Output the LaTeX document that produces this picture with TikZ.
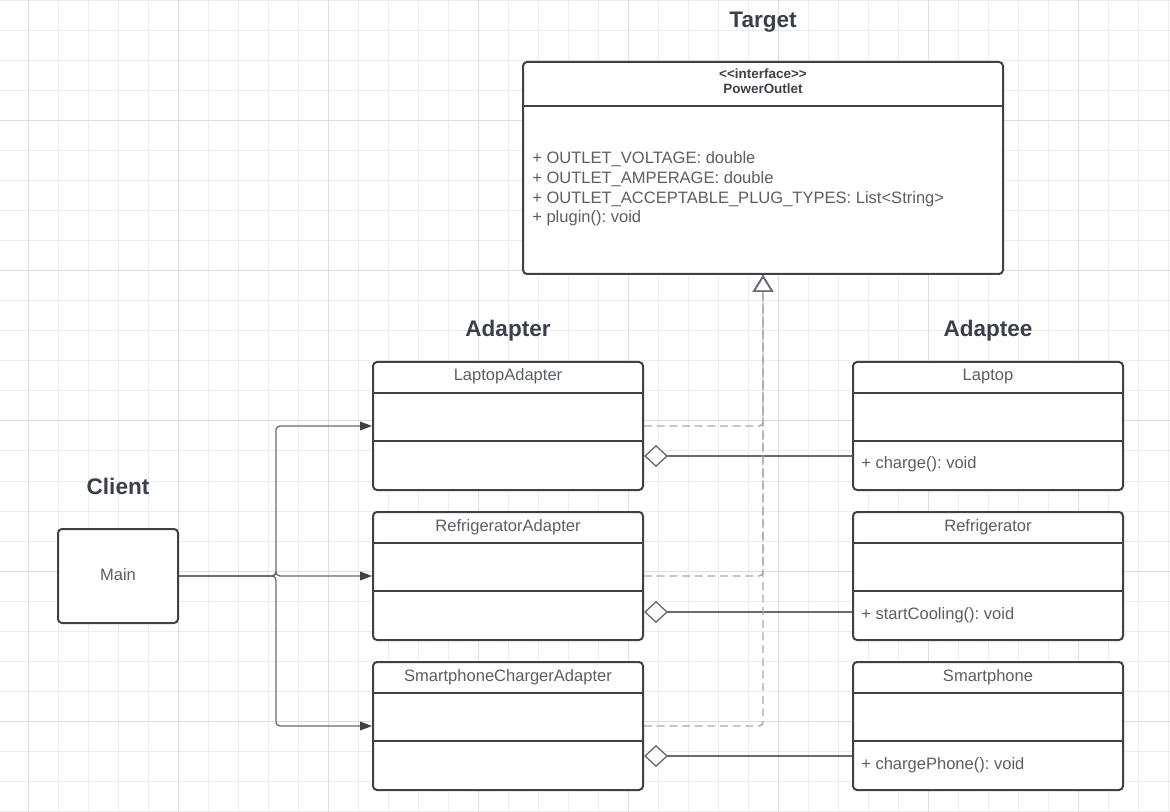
\documentclass[tikz,border=0pt]{standalone}
\usepackage{fontspec}
\setmainfont{Liberation Sans}
\usepackage{tikz}
\usetikzlibrary{arrows.meta,calc}
\frenchspacing
\definecolor{boxline}{RGB}{62,66,72}
\definecolor{txtgray}{RGB}{90,95,102}
\definecolor{titlegray}{RGB}{58,64,74}
\definecolor{dashgray}{RGB}{168,170,174}
\definecolor{linkgray}{RGB}{104,108,114}
\definecolor{gridminor}{RGB}{237,237,237}
\definecolor{gridmajor}{RGB}{222,222,222}

\begin{document}
\begin{tikzpicture}[
    x=0.75pt, y=-0.75pt,
    every node/.style={font=\fontsize{12.4}{14.7}\selectfont, text=txtgray, inner sep=0pt},
    classbox/.style={draw=boxline, line width=1.5pt, rounded corners=3pt, fill=white,
                     minimum width=202.5pt, minimum height=96pt},
    divider/.style={draw=boxline, line width=1.5pt},
    heading/.style={font=\fontsize{16.9}{20}\selectfont\bfseries, text=titlegray, anchor=base},
    member/.style={anchor=base west},
    realize/.style={draw=dashgray, line width=1.1pt, dash pattern=on 6pt off 3.5pt, rounded corners=3pt,
                    -{Triangle[open, length=12.75pt, width=15.5pt, color=linkgray]}},
    assoc/.style={draw=linkgray, line width=1pt, rounded corners=3pt,
                  -{Triangle[length=9pt, width=6.5pt, color=boxline]}},
    aggr/.style={draw=linkgray, line width=1pt,
                 {Diamond[open, length=18pt, width=16.5pt, color=linkgray, fill=white]}-},
]
    \useasboundingbox (0,0) rectangle (1170,812);
    % background grid
    \fill[white] (0,0) rectangle (1170,812);
    \foreach \gx in {28,58,...,1168} \draw[gridminor, line width=0.75pt] (\gx,0) -- (\gx,812);
    \foreach \gy in {1,31,...,811} \draw[gridminor, line width=0.75pt] (0,\gy) -- (1170,\gy);
    \foreach \gx in {28,178,...,1168} \draw[gridmajor, line width=0.75pt] (\gx,0) -- (\gx,812);
    \foreach \gy in {121,271,...,811} \draw[gridmajor, line width=0.75pt] (0,\gy) -- (1170,\gy);

    % group titles
    \node[heading] (target) at (763,28) {Target};
    \node[heading] (adapter) at (508,337) {Adapter};
    \node[heading] (adaptee) at (988,337) {Adaptee};
    \node[heading] (client) at (118,494) {Client};

    % target interface
    \node[classbox, minimum width=360pt, minimum height=159pt] (outlet) at (763,168) {};
    \draw[divider] ($(outlet.north west)+(0,45)$) -- ($(outlet.north east)+(0,45)$);
    \node[anchor=base, font=\fontsize{10.1}{12}\selectfont\bfseries, text=boxline]
        (stereo) at ($(outlet.north)+(0,18)$) {<\kern0pt<interface>\kern0pt>};
    \node[anchor=base, font=\fontsize{10.1}{12}\selectfont\bfseries, text=boxline]
        (outletname) at ($(outlet.north)+(0,33)$) {PowerOutlet};
    \foreach \attr [count=\i] in {OUTLET\_VOLTAGE: double, OUTLET\_AMPERAGE: double,
            OUTLET\_ACCEPTABLE\_PLUG\_TYPES: List<String>, plugin(): void}
        \node[member] (attr\i) at ($(outlet.north west)+(10,{103+19.6*(\i-1)})$) {+ \attr};

    % client
    \node[classbox, minimum width=90pt, minimum height=70.5pt] (main) at (118,576) {};
    \node[anchor=base] (mainname) at ($(main.center)+(0,4)$) {Main};

    % adapters and adaptees
    \foreach \row/\adname/\aename/\method/\ay in {0/LaptopAdapter/Laptop/charge/95,
            1/RefrigeratorAdapter/Refrigerator/startCooling/101,
            2/SmartphoneChargerAdapter/Smartphone/chargePhone/95} {
        \node[classbox] (ad\row) at (508,{426+150*\row}) {};
        \node[classbox] (ae\row) at (988,{426+150*\row}) {};
        \foreach \b in {ad\row,ae\row} {
            \draw[divider] ($(\b.north west)+(0,32)$) -- ($(\b.north east)+(0,32)$);
            \draw[divider] ($(\b.north west)+(0,80)$) -- ($(\b.north east)+(0,80)$);
        }
        \node[anchor=base] (adtitle\row) at ($(ad\row.north)+(0,20)$) {\adname};
        \node[anchor=base] (aetitle\row) at ($(ae\row.north)+(0,20)$) {\aename};
        \node[member] (aemethod\row) at ($(ae\row.north west)+(9,108)$) {+ \method(): void};
        % connectors
        \draw[assoc] (main.east) -- ($(main.east)+(97,0)$) |- (ad\row.west);
        \draw[realize] (ad\row.east) -| (outlet.south);
        \draw[aggr] ($(ad\row.north east)+(0,\ay)$) -- ($(ae\row.north west)+(0,\ay)$);
    }
\end{tikzpicture}
\end{document}
